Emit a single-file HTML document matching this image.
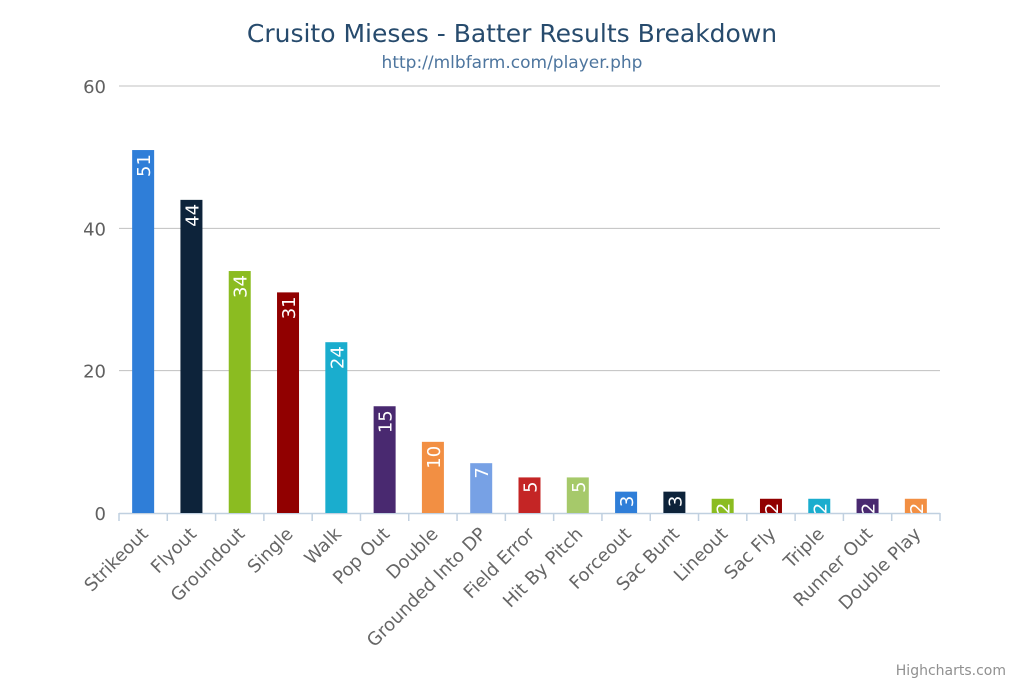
<!DOCTYPE html>
<html><head><meta charset="utf-8"><style>
html,body{margin:0;padding:0;background:#fff;}
svg{display:block;font-family:"DejaVu Sans","Liberation Sans",sans-serif;}
</style></head><body>
<svg id="chart" width="1024" height="682">
<text x="512" y="42" text-anchor="middle" font-size="25" fill="#274b6d">Crusito Mieses - Batter Results Breakdown</text>
<text x="512" y="68" text-anchor="middle" font-size="17" fill="#4d759e">http://mlbfarm.com/player.php</text>
<g id="grid"></g><g id="bars"></g><g id="xlabels"></g>
<text x="1006" y="675" text-anchor="end" font-size="14" fill="#909090">Highcharts.com</text>
</svg>
<script>
const categories=["Strikeout","Flyout","Groundout","Single","Walk","Pop Out","Double","Grounded Into DP","Field Error","Hit By Pitch","Forceout","Sac Bunt","Lineout","Sac Fly","Triple","Runner Out","Double Play"];
const values=[51,44,34,31,24,15,10,7,5,5,3,3,2,2,2,2,2];
const yTicks=[0,20,40,60];
const colors=["#2f7ed8","#0d233a","#8bbc21","#910000","#1aadce","#492970","#f28f43","#77a1e5","#c42525","#a6c96a"];
const NS="http://www.w3.org/2000/svg";
const L=119,R=940,T=86,B=513,yMax=60;
const y=v=>B-(B-T)*v/yMax;
const bw=(R-L)/categories.length;
const x=i=>L+bw*i;
function mk(tag,attrs,parent){const e=document.createElementNS(NS,tag);for(const k in attrs)e.setAttribute(k,attrs[k]);parent.appendChild(e);return e;}
const grid=document.getElementById('grid'),bars=document.getElementById('bars'),xl=document.getElementById('xlabels');
yTicks.forEach(t=>{
 if(t>0){const l=mk('line',{x1:L,x2:R,y1:y(t),y2:y(t),stroke:'#c0c0c0','stroke-width':1},grid);
 
 }
 const tx=mk('text',{x:106,y:y(t)+7,'text-anchor':'end','font-size':18,fill:'#606060'},grid);
 tx.textContent=t;
 
 
});
const ax=mk('line',{x1:L,x2:R,y1:B+0.5,y2:B+0.5,stroke:'#c0d0e0','stroke-width':1.5},grid);


for(let i=0;i<=categories.length;i++){
 const tk=mk('line',{x1:x(i),x2:x(i),y1:B,y2:B+8,stroke:'#c0d0e0','stroke-width':1.5},grid);
 
 
}
categories.forEach((c,i)=>{
 const cx=x(i)+bw/2,w=22,top=y(values[i]);
 const r=mk('rect',{x:cx-w/2,y:top,width:w,height:B-top,fill:colors[i%colors.length]},bars);
 
 
 const lbl=mk('text',{x:cx+7,y:top+4,'text-anchor':'end','font-size':18,fill:'#fff',transform:`rotate(-90 ${cx+7} ${top+4})`},bars);
 lbl.textContent=values[i];
 
 
 const lx=cx+6,ly=B+22;
 const t=mk('text',{x:lx,y:ly,'text-anchor':'end','font-size':18,fill:'#666',transform:`rotate(-45 ${lx} ${ly})`},xl);
 t.textContent=c;
 
 
});
</script>
</body></html>
